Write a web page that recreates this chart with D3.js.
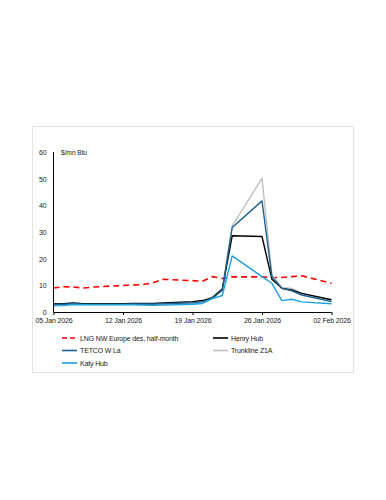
<!DOCTYPE html>
<html><head><meta charset="utf-8">
<script src="https://cdn.jsdelivr.net/npm/d3@7"></script>
<style>
body{margin:0;background:#fff;}
text{font-family:"Liberation Sans",Arial,sans-serif;fill:#222;letter-spacing:-0.15px;}
</style></head>
<body><svg id="c" width="386" height="500"></svg>
<script>
const dates = ["2026-01-05","2026-01-06","2026-01-07","2026-01-08","2026-01-09",
"2026-01-12","2026-01-13","2026-01-14","2026-01-15","2026-01-16",
"2026-01-19","2026-01-20","2026-01-21","2026-01-22","2026-01-23",
"2026-01-26","2026-01-27","2026-01-28","2026-01-29","2026-01-30","2026-02-02"];
const lngNWE   = [9.0,9.5,9.4,9.0,9.4, 10.0,10.1,10.3,11.0,12.3, 11.8,11.6,13.3,12.6,13.2, 13.2,13.0,13.0,13.3,13.6,10.8];
const henryHub = [3.1,3.1,3.4,3.1,3.1, 3.1,3.2,3.2,3.2,3.4, 3.9,4.3,5.4,8.6,28.7, 28.4,12.3,8.9,8.3,7.0,4.6];
const tetcoWLa = [2.9,2.9,3.1,2.9,2.9, 2.9,3.0,3.0,3.0,3.1, 3.5,3.9,5.2,8.2,31.8, 41.8,13.3,8.9,8.0,6.4,3.9];
const trunkZ1A = [2.8,2.8,3.0,2.8,2.8, 2.8,2.9,2.9,2.9,3.0, 3.4,3.8,5.1,8.4,32.4, 50.3,13.9,9.2,8.9,7.0,4.3];
const katyHub  = [2.3,2.4,2.8,2.7,2.7, 2.7,2.7,2.6,2.5,2.6, 2.9,3.2,5.0,6.2,21.1, 13.3,10.8,4.3,4.8,3.8,3.1];
const yTicks = [0,10,20,30,40,50,60];
const xTicks = ["2026-01-05","2026-01-12","2026-01-19","2026-01-26","2026-02-02"];
const seriesNames = ["LNG NW Europe des, half-month","Henry Hub","TETCO W La","Trunkline Z1A","Katy Hub"];
const seriesColors = ["#ff0000","#000000","#1d6391","#c0c0c0","#1ba1de"];
const seriesValues = [lngNWE, henryHub, tetcoWLa, trunkZ1A, katyHub];

const parse = d3.timeParse("%Y-%m-%d");
const svg = d3.select("#c");
svg.append("rect").attr("x",32.5).attr("y",126.5).attr("width",321).attr("height",246)
  .attr("fill","#fff").attr("stroke","#e3e3e3").attr("stroke-width",1);

const x = d3.scaleTime().domain([parse(xTicks[0]), parse(xTicks[xTicks.length-1])]).range([53.5,331.5]);
const y = d3.scaleLinear().domain([0,60]).range([312,152.5]);

const ya = svg.append("g").attr("transform","translate(53.5,0)")
  .call(d3.axisLeft(y).tickValues(yTicks).tickSize(0).tickPadding(7));
ya.select(".domain").remove();
ya.selectAll("text").attr("font-size","7px").style("font-family",null).attr("fill","#222");

svg.append("text").attr("x",61).attr("y",155).attr("font-size","6.8px").text("$/mn Btu");

const line = d3.line().x((d,i)=>x(parse(dates[i]))).y(d=>y(d));
const order = [0,3,1,2,4];
order.forEach(k=>{
  const p = svg.append("path").datum(seriesValues[k]).attr("d",line)
    .attr("fill","none").attr("stroke",seriesColors[k])
    .attr("stroke-width", k===0?1.6:1.4).attr("stroke-linejoin","round");
  if(k===0) p.attr("stroke-dasharray","6,4");
});

svg.append("line").attr("x1",53.5).attr("x2",53.5).attr("y1",152).attr("y2",312).attr("stroke","#000").attr("stroke-width",1);
const xa = svg.append("g").attr("transform","translate(0,312)")
  .call(d3.axisBottom(x).tickValues(xTicks.map(parse)).tickSize(3).tickPadding(3)
    .tickFormat(d3.timeFormat("%d %b %Y")));
xa.select(".domain").attr("stroke","#000").attr("d","M53.5,0.5H331.5");
xa.selectAll(".tick line").attr("stroke","#000");
xa.selectAll("text").attr("font-size","7px").style("font-family",null).attr("fill","#222");

const legPos = [[62,338],[213,338],[62,350.5],[213,350.5],[62,363]];
seriesNames.forEach((n,k)=>{
  const [lx,ly] = legPos[k];
  const l = svg.append("line").attr("x1",lx).attr("x2",lx+15).attr("y1",ly).attr("y2",ly)
    .attr("stroke",seriesColors[k]).attr("stroke-width",1.6);
  if(k===0) l.attr("stroke-dasharray","5,3");
  svg.append("text").attr("x",lx+18).attr("y",ly+2.5).attr("font-size","7px").text(n);
});
</script></body></html>
